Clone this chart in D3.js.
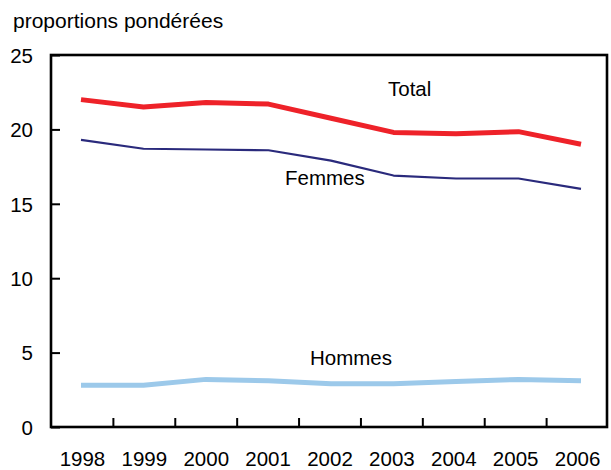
<!DOCTYPE html>
<html><head><meta charset="utf-8">
<script src="https://cdn.jsdelivr.net/npm/d3@7"></script>
<style>
body{margin:0;background:#fff;}
text{font-family:"Liberation Sans",Arial,Helvetica,sans-serif;fill:#000;}
</style></head><body>
<svg id="c" width="611" height="470"></svg>
<script>
const years = ["1998","1999","2000","2001","2002","2003","2004","2005","2006"];
const total = [22.0, 21.5, 21.8, 21.7, 20.75, 19.8, 19.7, 19.85, 19.0];
const femmes = [19.3, 18.7, 18.65, 18.6, 17.9, 16.9, 16.7, 16.7, 16.0];
const hommes = [2.8, 2.8, 3.2, 3.1, 2.9, 2.9, 3.05, 3.2, 3.1];
const yTicks = [0, 5, 10, 15, 20, 25];
const yTitle = "proportions pondérées";
const seriesLabels = ["Total", "Femmes", "Hommes"];

const svg = d3.select("#c");
const L = 51, R = 607, T = 55, B = 427;

const y = d3.scaleLinear().domain([0, 25]).range([B, T]);
const xb = d3.scaleBand().domain(years).range([L + 0.5, R + 1.5]);
const xp = d3.scalePoint().domain(years).range([81, 581]);

// Frame
svg.append("rect").attr("x", L).attr("y", T).attr("width", R - L).attr("height", B - T)
  .attr("fill", "none").attr("stroke", "#000").attr("stroke-width", 2.6);

// Y axis
const ya = svg.append("g").attr("transform", `translate(${L},0)`)
  .call(d3.axisLeft(y).tickValues(yTicks).tickSize(-9).tickPadding(18).tickFormat(d3.format("d")));
ya.select(".domain").remove();
ya.selectAll("line").attr("stroke", "#000").attr("stroke-width", 2);
ya.selectAll("text").attr("font-size", 20.5).attr("font-family", "Liberation Sans, Arial, sans-serif").attr("dy", "0.36em");

// X axis labels
const xa = svg.append("g").attr("transform", `translate(0,${B})`)
  .call(d3.axisBottom(xb).tickSize(0).tickPadding(0));
xa.select(".domain").remove();
xa.selectAll("text").attr("font-size", 20.5).attr("font-family", "Liberation Sans, Arial, sans-serif").attr("y", 38.5).attr("dy", 0);

// X tick marks at band boundaries
svg.append("g").selectAll("line").data(years.slice(1)).join("line")
  .attr("x1", d => xb(d)).attr("x2", d => xb(d))
  .attr("y1", B).attr("y2", B - 9)
  .attr("stroke", "#000").attr("stroke-width", 2);

// Lines
const line = d3.line().x((d, i) => xp(years[i])).y(d => y(d));
svg.append("path").datum(hommes).attr("d", line).attr("fill", "none")
  .attr("stroke", "#9cc9ea").attr("stroke-width", 5).attr("stroke-linejoin", "round");
svg.append("path").datum(femmes).attr("d", line).attr("fill", "none")
  .attr("stroke", "#2a2a7c").attr("stroke-width", 2.2).attr("stroke-linejoin", "round");
svg.append("path").datum(total).attr("d", line).attr("fill", "none")
  .attr("stroke", "#ee2229").attr("stroke-width", 5).attr("stroke-linejoin", "round");

// Titles and labels
svg.append("text").attr("x", 13).attr("y", 28).attr("font-size", 21).text(yTitle);
svg.append("text").attr("x", 388).attr("y", 96).attr("font-size", 20.5).text(seriesLabels[0]);
svg.append("text").attr("x", 285).attr("y", 185).attr("font-size", 20.5).text(seriesLabels[1]);
svg.append("text").attr("x", 310).attr("y", 365).attr("font-size", 20.5).text(seriesLabels[2]);
</script>
</body></html>
